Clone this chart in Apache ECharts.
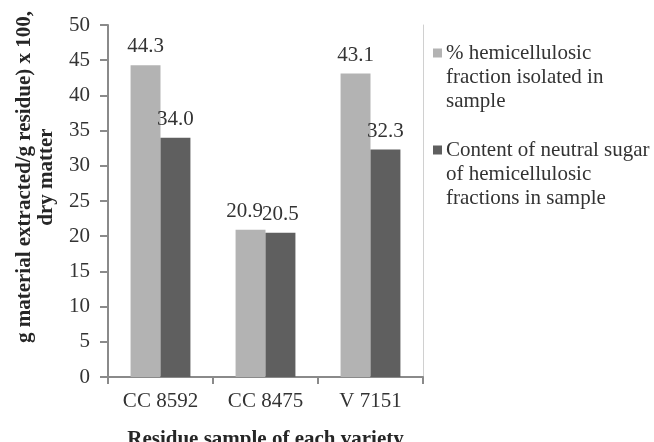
<!DOCTYPE html>
<html><head><meta charset="utf-8">
<script src="https://cdn.jsdelivr.net/npm/echarts@6/dist/echarts.min.js"></script>
<style>html,body{margin:0;padding:0;background:#fff}#c{width:654px;height:442px}</style>
</head><body><div id="c"></div>
<script>
var categories = ['CC 8592', 'CC 8475', 'V 7151'];
var seriesNames = ['% hemicellulosic fraction isolated in sample', 'Content of neutral sugar of hemicellulosic fractions in sample'];
var hemicelluloseFraction = [44.3, 20.9, 43.1];
var neutralSugarContent = [34.0, 20.5, 32.3];
var yTicks = { min: 0, max: 50, interval: 5 };
var yTitle = 'g material extracted/g residue) x 100,\ndry matter';
var xTitle = 'Residue sample of each variety';
var legendLines = [['% hemicellulosic', 'fraction isolated in', 'sample'],
                   ['Content of neutral sugar', 'of hemicellulosic', 'fractions in sample']];

var FONT = '"Liberation Serif", "Times New Roman", serif';
var FS = 21;
var LIGHT = '#b3b3b3', DARK = '#5f5f5f', TXT = '#333333', AX = '#8a8a8a';

function legendFmt(lines) {
  return lines.map(function (l, i) {
    return (i === 0 ? '{sq| }{sp| }' : '{ind| }') + '{t|' + l + '}';
  }).join('\n');
}
function richFor(color) {
  return {
    sq: { width: 9, height: 9, backgroundColor: color, lineHeight: 24 },
    sp: { width: 4, lineHeight: 24 },
    ind: { width: 13, lineHeight: 24 },
    t: { fontFamily: FONT, fontSize: FS, color: TXT, lineHeight: 24 }
  };
}
// nudge the light-bar label in the middle group left, as the original does to avoid collision
var lightData = hemicelluloseFraction.map(function (v, i) {
  return i === 1 ? { value: v, label: { offset: [-6, 0] } } : v;
});

var chart = echarts.init(document.getElementById('c'), null, { renderer: 'canvas' });
chart.setOption({
  animation: false,
  textStyle: { fontFamily: FONT },
  grid: { left: 108, right: 231, top: 25, bottom: 65, containLabel: false, outerBoundsMode: 'none' },
  legend: [
    { data: [seriesNames[0]], left: 423, top: 36, icon: 'none', itemWidth: 0, itemHeight: 0,
      formatter: function () { return legendFmt(legendLines[0]); },
      textStyle: { rich: richFor(LIGHT), lineHeight: 24 } },
    { data: [seriesNames[1]], left: 423, top: 133, icon: 'none', itemWidth: 0, itemHeight: 0,
      formatter: function () { return legendFmt(legendLines[1]); },
      textStyle: { rich: richFor(DARK), lineHeight: 24 } }
  ],
  xAxis: {
    type: 'category', data: categories,
    axisLine: { lineStyle: { color: AX, width: 2 } },
    axisTick: { show: true, length: 7, lineStyle: { color: AX, width: 2 } },
    axisLabel: { fontFamily: FONT, fontSize: FS, color: TXT, margin: 14 },
    name: xTitle, nameLocation: 'middle', nameGap: 52,
    nameTextStyle: { fontFamily: FONT, fontSize: FS, fontWeight: 'bold', color: '#262626' }
  },
  yAxis: [{
    type: 'value', min: yTicks.min, max: yTicks.max, interval: yTicks.interval,
    axisLine: { show: true, lineStyle: { color: AX, width: 2 } },
    axisTick: { show: true, length: 8, lineStyle: { color: AX, width: 2 } },
    axisLabel: { fontFamily: FONT, fontSize: FS, color: TXT, margin: 18 },
    splitLine: { show: false }
  }, {
    type: 'value', position: 'right', min: yTicks.min, max: yTicks.max, interval: yTicks.interval,
    axisLine: { show: true, lineStyle: { color: '#d0d0d0', width: 1 } },
    axisTick: { show: false }, axisLabel: { show: false }, splitLine: { show: false }
  }],
  series: [
    { name: seriesNames[0], type: 'bar', data: lightData, barGap: '0%', barCategoryGap: '43%',
      itemStyle: { color: LIGHT },
      label: { show: true, position: 'top', distance: 8, fontFamily: FONT, fontSize: FS, color: TXT,
        formatter: function (p) { return p.value.toFixed(1); } } },
    { name: seriesNames[1], type: 'bar', data: neutralSugarContent,
      itemStyle: { color: DARK },
      label: { show: true, position: 'top', distance: 8, fontFamily: FONT, fontSize: FS, color: TXT,
        formatter: function (p) { return p.value.toFixed(1); } } }
  ],
  graphic: [{
    type: 'text', x: 36, y: 177, rotation: Math.PI / 2,
    style: { text: yTitle, fontFamily: FONT, fontSize: FS, fontWeight: 'bold', fill: '#262626',
      align: 'center', verticalAlign: 'middle', lineHeight: 22 }
  }]
});
</script></body></html>
